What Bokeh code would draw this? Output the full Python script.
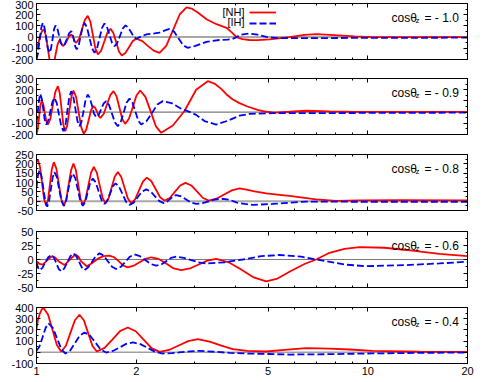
from bokeh.plotting import figure
from bokeh.layouts import column
from bokeh.models import (FixedTicker, LinearAxis, LogAxis, Span, Label, Range1d,
                          Legend, LegendItem, PrintfTickFormatter)
from bokeh.embed import file_html
from bokeh.resources import INLINE

FONT = "Liberation Sans"

# ---------------- data (E in GeV) ----------------
# cos(theta_z) = -1.0
E_NH_10 = [1.000, 1.014, 1.028, 1.041, 1.052, 1.067, 1.082, 1.097, 1.114, 1.129, 1.143, 1.158,
           1.173, 1.187, 1.201, 1.218, 1.236, 1.254, 1.273, 1.284, 1.295, 1.306, 1.318, 1.345,
           1.372, 1.400, 1.428, 1.454, 1.480, 1.506, 1.533, 1.567, 1.601, 1.637, 1.673, 1.705,
           1.740, 1.774, 1.809, 1.855, 1.902, 1.950, 2.000, 2.082, 2.168, 2.258, 2.351, 2.464,
           2.583, 2.707, 2.837, 2.937, 3.062, 3.260, 3.494, 3.746, 3.878, 4.016, 4.186, 4.395,
           4.647, 5.050, 5.804, 6.441, 7.002, 7.935, 9.118, 10.33, 14.33, 20.0]
NH_10 = [-105, -50, 20, 58, 68, 17, -101, -219, -270, -234, -149, -64,
         -28, -55, -81, -65, -29, 7, 23, 12, -14, -40, -51, -15,
         70, 154, 190, 138, 18, -103, -155, -121, -41, 40, 74, 38,
         -45, -128, -164, -142, -90, -37, -15, -34, -78, -121, -140, -79,
         63, 204, 265, 255, 222, 160, 115, 83, 45, 0, -18, -26,
         -27, -20, 0, 20, 26, 18, 6, 0, 0, 0]
E_IH_10 = [1.000, 1.009, 1.021, 1.033, 1.045, 1.057, 1.069, 1.082, 1.095, 1.106, 1.118, 1.129,
           1.141, 1.156, 1.170, 1.185, 1.201, 1.218, 1.236, 1.254, 1.273, 1.285, 1.298, 1.310,
           1.323, 1.341, 1.359, 1.378, 1.396, 1.420, 1.445, 1.471, 1.497, 1.523, 1.549, 1.577,
           1.604, 1.632, 1.661, 1.690, 1.720, 1.753, 1.787, 1.821, 1.856, 1.892, 1.929, 1.966,
           2.004, 2.075, 2.148, 2.271, 2.351, 2.434, 2.520, 2.601, 2.683, 2.768, 2.856, 3.020,
           3.260, 3.568, 3.772, 3.905, 4.016, 4.129, 4.395, 4.647, 4.946, 5.414, 8.216, 20.0]
IH_10 = [-200, -151, -37, 78, 127, 87, -7, -100, -140, -103, -18, 67,
         104, 76, 12, -53, -81, -61, -14, 33, 53, 29, -29, -86,
         -110, -74, 9, 91, 127, 87, -7, -100, -140, -101, -10, 82,
         121, 91, 20, -51, -81, -53, 12, 76, 104, 86, 45, 3,
         -15, 8, 24, 33, 40, 58, 74, 49, -11, -71, -96, -78,
         -42, -26, -22, -18, 0, 22, 32, 22, 2, -10, -8, -5]

# cos(theta_z) = -0.9
E_NH_09 = [1.000, 1.008, 1.018, 1.027, 1.038, 1.048, 1.059, 1.070, 1.082, 1.101, 1.120, 1.140,
           1.160, 1.175, 1.190, 1.205, 1.221, 1.239, 1.256, 1.275, 1.293, 1.317, 1.340, 1.365,
           1.389, 1.413, 1.437, 1.461, 1.486, 1.504, 1.523, 1.541, 1.560, 1.596, 1.632, 1.670,
           1.708, 1.743, 1.779, 1.815, 1.852, 1.901, 1.952, 2.003, 2.056, 2.132, 2.212, 2.294,
           2.379, 2.580, 2.797, 3.033, 3.289, 3.446, 3.618, 3.772, 3.905, 4.100, 4.334, 4.647,
           4.946, 5.229, 5.804, 6.518, 7.664, 8.807, 20.0]
NH_09 = [-200, -154, -48, 58, 104, 72, -4, -79, -111, -60, 61, 181,
         232, 172, 31, -110, -170, -116, 12, 139, 193, 135, 0, -136,
         -194, -157, -71, 16, 53, 37, 1, -35, -51, -15, 68, 151,
         187, 143, 41, -61, -105, -60, 44, 148, 193, 136, 4, -128,
         -185, -120, 10, 200, 276, 255, 205, 150, 115, 80, 50, 20,
         3, -4, 3, 12, 6, 3, 2]
E_IH_09 = [1.000, 1.007, 1.017, 1.026, 1.037, 1.048, 1.059, 1.070, 1.085, 1.101, 1.117, 1.133,
           1.151, 1.169, 1.188, 1.206, 1.223, 1.239, 1.256, 1.273, 1.291, 1.310, 1.329, 1.348,
           1.368, 1.388, 1.408, 1.428, 1.449, 1.471, 1.492, 1.514, 1.541, 1.568, 1.595, 1.623,
           1.656, 1.690, 1.725, 1.760, 1.796, 1.833, 1.870, 1.909, 1.948, 1.988, 2.029, 2.070,
           2.150, 2.232, 2.317, 2.406, 2.556, 2.734, 2.896, 3.034, 3.215, 3.487, 3.772, 4.100,
           4.395, 5.157, 20.0]
IH_09 = [-96, -20, 100, 163, 122, 26, -70, -111, -75, 8, 91, 127,
         82, -22, -125, -170, -116, 9, 133, 187, 140, 31, -79, -126,
         -84, 16, 115, 157, 127, 56, -15, -45, -24, 27, 77, 98,
         64, -14, -92, -126, -89, -3, 84, 121, 86, 5, -76, -111,
         -80, -7, 67, 98, 80, 30, 2, -25, -80, -111, -78, -32,
         -16, -10, -5]

# cos(theta_z) = -0.8
E_NH_08 = [1.000, 1.009, 1.024, 1.039, 1.054, 1.070, 1.084, 1.098, 1.113, 1.128, 1.148, 1.168,
           1.188, 1.209, 1.230, 1.250, 1.272, 1.293, 1.314, 1.336, 1.358, 1.380, 1.406, 1.433,
           1.461, 1.489, 1.520, 1.551, 1.583, 1.615, 1.650, 1.686, 1.722, 1.760, 1.801, 1.843,
           1.887, 1.931, 1.985, 2.039, 2.095, 2.152, 2.220, 2.289, 2.361, 2.434, 2.525, 2.619,
           2.716, 2.817, 2.933, 3.055, 3.181, 3.312, 3.494, 3.685, 3.887, 4.100, 4.304, 4.551,
           4.936, 5.414, 5.804, 6.441, 6.987, 8.029, 9.441, 12.47, 20.0]
NH_08 = [209, 222, 185, 99, 12, -25, 10, 92, 174, 209, 174, 92,
         10, -25, 9, 88, 167, 201, 168, 90, 13, -20, 10, 82,
         153, 183, 154, 86, 18, -11, 14, 73, 131, 156, 131, 73,
         14, -11, 10, 58, 105, 126, 108, 65, 21, 3, 17, 51,
         84, 98, 84, 51, 17, 3, 13, 36, 58, 68, 62, 52,
         42, 34, 28, 18, 10, 2, 4, 5, 4]
E_IH_08 = [1.000, 1.009, 1.021, 1.035, 1.049, 1.063, 1.077, 1.091, 1.105, 1.119, 1.133, 1.152,
           1.170, 1.190, 1.209, 1.228, 1.247, 1.267, 1.287, 1.310, 1.333, 1.356, 1.380, 1.404,
           1.428, 1.453, 1.479, 1.509, 1.540, 1.572, 1.604, 1.635, 1.667, 1.699, 1.732, 1.774,
           1.818, 1.863, 1.909, 1.965, 2.023, 2.082, 2.144, 2.210, 2.279, 2.350, 2.423, 2.475,
           2.529, 2.584, 2.641, 2.734, 2.831, 2.931, 3.034, 3.170, 3.313, 3.463, 3.618, 3.818,
           4.029, 4.252, 4.488, 5.157, 5.804, 6.518, 8.807, 20.0]
IH_08 = [73, 135, 165, 136, 68, 0, -29, -1, 64, 128, 156, 129,
         66, 2, -25, 1, 62, 122, 148, 122, 62, 1, -25, -3,
         48, 99, 121, 101, 53, 5, -15, 2, 40, 79, 95, 78,
         38, -3, -20, -8, 22, 51, 63, 52, 26, 0, -11, -4,
         11, 26, 33, 26, 9, -8, -15, -11, -1, 9, 13, 8,
         -8, -15, -20, -15, -8, -2, -3, -3]

# cos(theta_z) = -0.6
E_NH_06 = [1.000, 1.021, 1.045, 1.079, 1.115, 1.141, 1.165, 1.215, 1.262, 1.311, 1.339, 1.362,
           1.418, 1.466, 1.528, 1.593, 1.661, 1.715, 1.770, 1.827, 1.886, 1.965, 2.046, 2.131,
           2.219, 2.338, 2.463, 2.595, 2.734, 2.905, 3.088, 3.281, 3.487, 3.803, 4.149, 4.526,
           4.936, 5.340, 5.804, 6.441, 6.987, 7.664, 8.506, 9.441, 11.23, 13.06, 16.46, 20.0]
NH_06 = [-3, -8, -9, -1, 6, 3, -3, -10, 0, 9, 5, -3,
         -12, -7, 1, 6, 7, 4, -3, -11, -14, -11, -5, 1,
         4, 1, -7, -16, -19, -16, -9, -2, 1, -5, -18, -32,
         -39, -34, -22, -8, 0, 12, 19, 22, 21, 17, 10, 6]
E_IH_06 = [1.000, 1.009, 1.021, 1.042, 1.063, 1.085, 1.108, 1.127, 1.147, 1.167, 1.187, 1.213,
           1.239, 1.266, 1.293, 1.318, 1.344, 1.370, 1.396, 1.433, 1.471, 1.510, 1.549, 1.595,
           1.642, 1.690, 1.740, 1.797, 1.854, 1.914, 1.976, 2.052, 2.131, 2.213, 2.298, 2.379,
           2.463, 2.550, 2.641, 2.782, 2.931, 3.088, 3.253, 3.694, 4.197, 4.767, 5.414, 6.296,
           7.317, 8.506, 9.891, 13.06, 16.46, 20.0]
IH_06 = [-5, -14, -19, -15, -5, 4, 8, 4, -6, -17, -21, -16,
         -5, 6, 11, 6, -4, -14, -19, -14, -4, 6, 11, 7,
         -3, -13, -17, -13, -4, 5, 9, 6, -1, -8, -11, -9,
         -3, 3, 5, 3, -1, -5, -7, -5, 0, 6, 8, 5,
         -2, -9, -12, -10, -7, -4]

# cos(theta_z) = -0.4
E_NH_04 = [1.000, 1.010, 1.025, 1.038, 1.052, 1.084, 1.118, 1.152, 1.187, 1.226, 1.265, 1.306,
           1.348, 1.390, 1.432, 1.476, 1.521, 1.605, 1.694, 1.787, 1.886, 1.993, 2.106, 2.225,
           2.351, 2.513, 2.686, 2.871, 3.068, 3.328, 3.618, 3.913, 4.334, 4.936, 5.606, 6.518,
           7.664, 8.807, 10.33, 14.33, 20.0]
NH_04 = [207, 290, 350, 385, 394, 336, 200, 65, 7, 56, 171, 286,
         335, 286, 171, 56, 7, 39, 114, 189, 221, 188, 113, 37,
         4, 21, 61, 100, 117, 95, 60, 28, 13, 7, 22, 37,
         32, 25, 13, 5, 3]
E_IH_04 = [1.000, 1.020, 1.043, 1.066, 1.089, 1.121, 1.154, 1.188, 1.223, 1.264, 1.307, 1.351,
           1.396, 1.450, 1.505, 1.563, 1.623, 1.700, 1.781, 1.865, 1.953, 2.058, 2.168, 2.284,
           2.406, 2.565, 2.733, 2.912, 3.105, 3.446, 3.824, 4.334, 5.804, 7.664, 10.33, 14.33,
           20.0]
IH_04 = [13, 50, 135, 220, 257, 217, 123, 29, -11, 17, 83, 149,
         177, 150, 88, 25, -2, 12, 43, 75, 88, 73, 39, 4,
         -11, -7, 1, 9, 13, 5, -5, -11, -20, -17, -10, -5,
         -2]

COS_TEXT = ["= - 1.0", "= - 0.9", "= - 0.8", "= - 0.6", "= - 0.4"]
Y_LIMITS = [(-200, 300), (-200, 300), (-50, 250), (-50, 50), (-100, 400)]
Y_MAJOR = [[-200, -100, 0, 100, 200, 300],
           [-200, -100, 0, 100, 200, 300],
           [-50, 0, 50, 100, 150, 200, 250],
           [-50, -25, 0, 25, 50],
           [-100, 0, 100, 200, 300, 400]]
Y_MINOR = [[-150, -50, 50, 150, 250],
           [-150, -50, 50, 150, 250],
           [-25, 25, 75, 125, 175, 225],
           [-37.5, -12.5, 12.5, 37.5],
           [-50, 50, 150, 250, 350]]
X_MAJOR = [1, 2, 5, 10, 20]
X_MINOR = [3, 4, 6, 7, 8, 9]

SERIES = [(E_NH_10, NH_10, E_IH_10, IH_10),
          (E_NH_09, NH_09, E_IH_09, IH_09),
          (E_NH_08, NH_08, E_IH_08, IH_08),
          (E_NH_06, NH_06, E_IH_06, IH_06),
          (E_NH_04, NH_04, E_IH_04, IH_04)]

ZERO_STYLE = [("#a8a8a8", 2.0), ("#7a7a7a", 1.2), ("#a8a8a8", 2.0), ("#7a7a7a", 1.2), ("#a0a0a0", 1.5)]
BORDERS = [(3, 9), (10, 10), (10, 10), (11, 10), (10, 15)]   # (top, bottom)

RED = "#ff0000"
BLUE = "#0000ff"
FH = 56


def style_axis(ax, show_labels):
    ax.major_tick_in = 4
    ax.major_tick_out = 0
    ax.minor_tick_in = 2
    ax.minor_tick_out = 0
    ax.axis_line_color = "black"
    ax.major_tick_line_color = "black"
    ax.minor_tick_line_color = "black"
    ax.major_label_text_font = FONT
    if show_labels:
        ax.major_label_text_color = "black"
        ax.major_label_text_font_size = "11px"
        ax.major_label_standoff = 3
    else:
        ax.major_label_text_color = None
        ax.major_label_text_font_size = "1px"
        ax.major_label_standoff = 0


figs = []
for i in range(5):
    e_nh, nh, e_ih, ih = SERIES[i]
    last = (i == 4)
    top, bottom = BORDERS[i]
    p = figure(x_axis_type="log", x_range=Range1d(1, 20), y_range=Range1d(*Y_LIMITS[i]),
               frame_width=431, frame_height=FH,
               min_border_left=36, min_border_right=12,
               min_border_top=top, min_border_bottom=bottom,
               output_backend="svg", toolbar_location=None)
    p.grid.visible = False
    p.outline_line_color = "black"
    p.background_fill_color = "white"

    p.xaxis.ticker = FixedTicker(ticks=X_MAJOR, minor_ticks=X_MINOR)
    p.xaxis.formatter = PrintfTickFormatter(format="%d")
    p.yaxis.ticker = FixedTicker(ticks=Y_MAJOR[i], minor_ticks=Y_MINOR[i])
    p.yaxis.formatter = PrintfTickFormatter(format="%d")
    style_axis(p.xaxis[0], last)
    style_axis(p.yaxis[0], True)

    top_ax = LogAxis(ticker=FixedTicker(ticks=X_MAJOR, minor_ticks=X_MINOR))
    style_axis(top_ax, False)
    p.add_layout(top_ax, "above")
    right_ax = LinearAxis(ticker=FixedTicker(ticks=Y_MAJOR[i], minor_ticks=Y_MINOR[i]))
    style_axis(right_ax, False)
    p.add_layout(right_ax, "right")

    zc, zw = ZERO_STYLE[i]
    p.add_layout(Span(location=0, dimension="width", line_color=zc, line_width=zw,
                      level="underlay"))

    r_nh = p.line(e_nh, nh, line_color=RED, line_width=1.8)
    r_ih = p.line(e_ih, ih, line_color=BLUE, line_width=1.8, line_dash="7 3")

    # panel label  cos(theta)_z = ...
    base_y = FH - 14
    p.add_layout(Label(x=355, y=base_y, x_units="screen", y_units="screen", text="cos\u03b8",
                       text_font=FONT, text_font_size="12px", text_color="black",
                       text_baseline="alphabetic", text_align="left"))
    p.add_layout(Label(x=379, y=base_y - 3, x_units="screen", y_units="screen", text="z",
                       text_font=FONT, text_font_size="8px", text_color="black",
                       text_baseline="alphabetic", text_align="left"))
    p.add_layout(Label(x=388, y=base_y, x_units="screen", y_units="screen", text=COS_TEXT[i],
                       text_font=FONT, text_font_size="12px", text_color="black",
                       text_baseline="alphabetic", text_align="left"))

    if i == 0:
        legend = Legend(items=[LegendItem(label="\u00a0", renderers=[r_nh]),
                               LegendItem(label="\u00a0", renderers=[r_ih])],
                        location=(213, FH - 4 - 21), orientation="vertical",
                        glyph_width=27, glyph_height=10, label_height=10, label_width=0,
                        label_standoff=0, spacing=1, padding=0, margin=0,
                        border_line_color=None, background_fill_alpha=0,
                        label_text_font_size="8px")
        p.add_layout(legend)
        p.add_layout(Label(x=208, y=FH - 8, x_units="screen", y_units="screen", text="[NH]",
                           text_font=FONT, text_font_size="11px", text_color="black",
                           text_baseline="middle", text_align="right"))
        p.add_layout(Label(x=208, y=FH - 18.5, x_units="screen", y_units="screen", text="[IH]",
                           text_font=FONT, text_font_size="11px", text_color="black",
                           text_baseline="middle", text_align="right"))
    figs.append(p)

layout = column(*figs, spacing=0)
open("out.html", "w").write(file_html(layout, INLINE))
